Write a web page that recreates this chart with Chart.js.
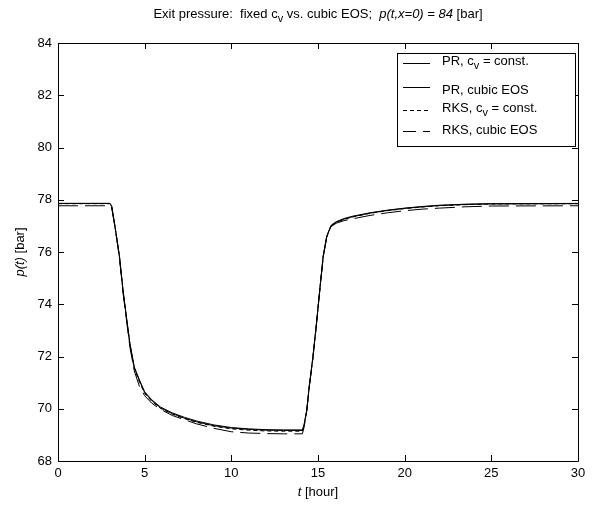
<!DOCTYPE html>
<html>
<head>
<meta charset="utf-8">
<script src="https://cdn.jsdelivr.net/npm/chart.js@4.4.0/dist/chart.umd.min.js"></script>
<style>
  html, body { margin: 0; padding: 0; background: #fff; }
</style>
</head>
<body>
<canvas id="exitPressure" width="592" height="506"></canvas>
<script>
// time grid [hour]
const hours = [0, 3.0, 3.1, 3.25, 3.4, 3.55, 3.75, 3.95, 4.15, 4.4, 4.7, 5.0, 5.4, 5.9, 6.6, 7.3, 8.0, 9.0, 10.0, 11.0, 12.0, 13.0, 14.1,
  14.2, 14.35, 14.5, 14.7, 14.9, 15.1, 15.3, 15.5, 15.75, 16.05, 16.5, 17.0, 18.0, 19.0, 20.0, 21.0, 22.0, 23.5, 25.0, 30.0];

// exit pressure p(t) [bar]
const prConst = [77.86, 77.86, 77.75, 77.15, 76.5, 75.82, 74.55, 73.5, 72.5, 71.6, 71.1, 70.65, 70.35, 70.07, 69.84, 69.67, 69.53, 69.38, 69.28, 69.23, 69.2, 69.19, 69.19,
  69.4, 69.95, 70.9, 71.95, 73.2, 74.55, 75.85, 76.6, 77.02, 77.16, 77.28, 77.37, 77.5, 77.6, 77.68, 77.74, 77.79, 77.83, 77.85, 77.86];
const prCubic = [77.86, 77.86, 77.74, 77.13, 76.48, 75.8, 74.53, 73.48, 72.47, 71.57, 71.07, 70.62, 70.32, 70.04, 69.81, 69.64, 69.5, 69.35, 69.26, 69.21, 69.18, 69.17, 69.17,
  69.38, 69.93, 70.88, 71.93, 73.18, 74.53, 75.83, 76.58, 77.0, 77.14, 77.26, 77.35, 77.49, 77.59, 77.67, 77.73, 77.78, 77.82, 77.84, 77.85];
const rksConst = [77.85, 77.85, 77.73, 77.12, 76.47, 75.78, 74.5, 73.45, 72.43, 71.53, 71.02, 70.58, 70.29, 70.02, 69.79, 69.62, 69.48, 69.33, 69.23, 69.18, 69.15, 69.14, 69.14,
  69.36, 69.92, 70.87, 71.92, 73.17, 74.52, 75.82, 76.57, 76.99, 77.13, 77.25, 77.34, 77.48, 77.58, 77.66, 77.72, 77.77, 77.81, 77.84, 77.85];
const rksCubic = [77.77, 77.77, 77.68, 77.1, 76.45, 75.75, 74.45, 73.4, 72.35, 71.45, 70.85, 70.5, 70.22, 69.98, 69.74, 69.58, 69.42, 69.25, 69.12, 69.07, 69.05, 69.04, 69.04,
  69.3, 69.9, 70.85, 71.9, 73.15, 74.5, 75.8, 76.55, 76.97, 77.1, 77.2, 77.27, 77.4, 77.5, 77.58, 77.64, 77.68, 77.73, 77.76, 77.77];

const seriesLabels = ['PR, c_v = const.', 'PR, cubic EOS', 'RKS, c_v = const.', 'RKS, cubic EOS'];
const xTickStep = 5;
const yTickStep = 2;

const FONT = '"Liberation Sans", Arial, sans-serif';

// split "c_v" style strings into text parts with subscripts
function parseParts(str) {
  const parts = [];
  str.split(/(_\w)/).forEach(s => {
    if (!s) return;
    if (s[0] === '_') parts.push({ t: s.slice(1), sub: true });
    else parts.push({ t: s });
  });
  return parts;
}

function partFont(p) {
  return (p.italic ? 'italic ' : '') + (p.sub ? '11px ' : '13px ') + FONT;
}

function richWidth(ctx, parts) {
  let w = 0;
  parts.forEach(p => { ctx.font = partFont(p); w += ctx.measureText(p.t).width; });
  return w;
}

// draws text pieces in a row; align 'left' or 'center'
function drawRich(ctx, parts, x, y, align) {
  let cx = align === 'center' ? x - richWidth(ctx, parts) / 2 : x;
  ctx.textBaseline = 'middle';
  ctx.textAlign = 'left';
  parts.forEach(p => {
    ctx.font = partFont(p);
    ctx.fillText(p.t, cx, p.sub ? y + 5 : y);
    cx += ctx.measureText(p.t).width;
  });
}

const makeSet = (label, values, dash) => ({
  label: label,
  data: hours.map((t, i) => ({ x: t, y: values[i] })),
  borderColor: '#000',
  borderWidth: 1,
  borderDash: dash,
  showLine: true,
  pointRadius: 0,
  fill: false,
  tension: 0
});

// inward ticks on all four sides plus the box
const boxTicks = {
  id: 'boxTicks',
  afterDatasetsDraw(chart) {
    const { ctx, chartArea: a, scales: { x, y } } = chart;
    const len = 6;
    ctx.save();
    ctx.strokeStyle = '#000';
    ctx.lineWidth = 1;
    ctx.setLineDash([]);
    ctx.beginPath();
    x.ticks.forEach(tk => {
      const px = Math.round(x.getPixelForValue(tk.value)) + 0.5;
      ctx.moveTo(px, a.bottom); ctx.lineTo(px, a.bottom - len);
      ctx.moveTo(px, a.top); ctx.lineTo(px, a.top + len);
    });
    y.ticks.forEach(tk => {
      const py = Math.round(y.getPixelForValue(tk.value)) + 0.5;
      ctx.moveTo(a.left, py); ctx.lineTo(a.left + len, py);
      ctx.moveTo(a.right, py); ctx.lineTo(a.right - len, py);
    });
    ctx.rect(a.left + 0.5, a.top + 0.5, a.right - a.left, a.bottom - a.top);
    ctx.stroke();
    ctx.restore();
  }
};

// title, axis titles and the boxed legend
const textLayer = {
  id: 'textLayer',
  afterDraw(chart) {
    const { ctx, chartArea: a } = chart;
    const midX = (a.left + a.right) / 2;
    ctx.save();
    ctx.fillStyle = '#000';

    drawRich(ctx, [
      { t: 'Exit pressure:  fixed c' }, { t: 'v', sub: true }, { t: ' vs. cubic EOS;  ' },
      { t: 'p(t,x=0) = 84', italic: true }, { t: ' [bar]' }
    ], midX, 14, 'center');

    drawRich(ctx, [{ t: 't', italic: true }, { t: ' [hour]' }], midX, 492, 'center');

    ctx.save();
    ctx.translate(20, (a.top + a.bottom) / 2);
    ctx.rotate(-Math.PI / 2);
    drawRich(ctx, [{ t: 'p(t)', italic: true }, { t: ' [bar]' }], 0, 0, 'center');
    ctx.restore();

    // legend
    const bx = a.right - 181, by = a.top + 10, bw = 178, bh = 93;
    ctx.fillStyle = '#fff';
    ctx.fillRect(bx, by, bw, bh);
    ctx.strokeStyle = '#000';
    ctx.lineWidth = 1;
    ctx.strokeRect(bx + 0.5, by + 0.5, bw, bh);
    const lineY = [10.5, 34.5, 57.5, 78.5];
    const textY = [8, 37, 55, 77];
    chart.data.datasets.forEach((ds, i) => {
      ctx.beginPath();
      ctx.setLineDash(ds.legendDash || []);
      ctx.moveTo(bx + 6, by + lineY[i]);
      ctx.lineTo(bx + 33, by + lineY[i]);
      ctx.stroke();
      ctx.setLineDash([]);
      ctx.fillStyle = '#000';
      drawRich(ctx, parseParts(ds.label), bx + 45, by + textY[i], 'left');
    });
    ctx.restore();
  }
};

const datasets = [
  makeSet(seriesLabels[0], prConst, []),
  makeSet(seriesLabels[1], prCubic, []),
  makeSet(seriesLabels[2], rksConst, [4, 3]),
  makeSet(seriesLabels[3], rksCubic, [20, 7])
];
datasets[2].legendDash = [4, 3];
datasets[3].legendDash = [13, 7];

new Chart(document.getElementById('exitPressure'), {
  type: 'scatter',
  data: { datasets: datasets },
  options: {
    responsive: false,
    animation: false,
    events: [],
    layout: { padding: { left: 0, top: 43, right: 14, bottom: 0 } },
    plugins: {
      legend: { display: false },
      title: { display: false },
      tooltip: { enabled: false }
    },
    scales: {
      x: {
        type: 'linear',
        min: 0,
        max: 30,
        grid: { display: false, drawTicks: false },
        border: { display: false },
        ticks: { stepSize: xTickStep, padding: 5, color: '#000', font: { family: FONT, size: 13 } },
        afterFit(scale) { scale.height = 45; }
      },
      y: {
        min: 68,
        max: 84,
        grid: { display: false, drawTicks: false },
        border: { display: false },
        ticks: { stepSize: yTickStep, padding: 6, color: '#000', font: { family: FONT, size: 13 } },
        afterFit(scale) { scale.width = 58; }
      }
    }
  },
  plugins: [boxTicks, textLayer]
});
</script>
</body>
</html>
